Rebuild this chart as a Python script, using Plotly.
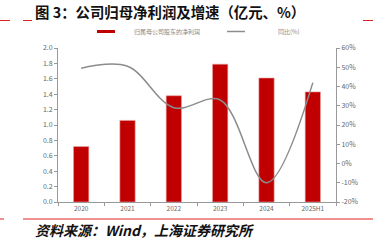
import plotly.graph_objects as go

categories = ["2020", "2021", "2022", "2023", "2024", "2025H1"]
net_profit = [0.72, 1.06, 1.38, 1.79, 1.61, 1.43]
yoy = [49.5, 50.5, 29.0, 33.0, -10.0, 42.0]
left_ticks = [0.0, 0.2, 0.4, 0.6, 0.8, 1.0, 1.2, 1.4, 1.6, 1.8, 2.0]
right_ticks = [-20, -10, 0, 10, 20, 30, 40, 50, 60]
series_names = ["归属母公司股东的净利润", "同比(%)"]

RED = "#C00000"
GREY = "#8C8C8C"
TICKC = "#666666"
FONT = "Noto Sans CJK SC"

fig = go.Figure()
fig.add_trace(go.Bar(x=categories, y=net_profit, name=series_names[0],
                     marker=dict(color=RED, line=dict(width=0.6, color="#E8A0A0")),
                     showlegend=False, yaxis="y"))
fig.add_trace(go.Scatter(x=categories, y=yoy, mode="lines", yaxis="y2", name=series_names[1],
                         line=dict(color=GREY, width=1.5, shape="spline", smoothing=1.0),
                         showlegend=False))

fig.update_layout(
    width=383, height=252,
    margin=dict(l=58, r=47, t=48, b=50),
    paper_bgcolor="white", plot_bgcolor="white",
    font=dict(family=FONT, size=7, color=TICKC),
    bargap=0.67,
    showlegend=False,
    xaxis=dict(type="category", showline=True, linecolor="#999999", linewidth=1,
               ticks="outside", tickson="boundaries", ticklen=3, tickcolor="#999999",
               showgrid=False, tickfont=dict(size=6.5, color=TICKC)),
    yaxis=dict(range=[0, 2.0], tickvals=left_ticks, ticktext=[f"{v:.1f}" for v in left_ticks],
               showline=True, linecolor="#999999", linewidth=1, ticks="outside", ticklen=3,
               tickcolor="#999999", showgrid=False, zeroline=False,
               tickfont=dict(size=7, color=TICKC)),
    yaxis2=dict(range=[-20, 60], tickvals=right_ticks, ticktext=[f"{v}%" for v in right_ticks],
                overlaying="y", side="right", showline=True, linecolor="#999999", linewidth=1,
                ticks="outside", ticklen=3, tickcolor="#999999", showgrid=False, zeroline=False,
                tickfont=dict(size=7, color=TICKC)),
)

def px(x):
    return (x - 58) / 278

def py(y):
    return (202 - y) / 154

fig.add_annotation(text="<b>图 3：公司归母净利润及增速（亿元、%）</b>", xref="paper", yref="paper",
                   x=px(33), y=py(12), xanchor="left", yanchor="middle",
                   showarrow=False, font=dict(family=FONT, size=14.4, color="#111111"))
fig.add_annotation(text="<b><i>资料来源：Wind，上海证券研究所</i></b>", xref="paper", yref="paper",
                   x=px(33), y=py(230), xanchor="left", yanchor="middle",
                   showarrow=False, font=dict(family=FONT, size=14, color="#111111"))

def hline(x0, x1, y, color="#E02020", width=1):
    fig.add_shape(type="line", xref="paper", yref="paper",
                  x0=px(x0), x1=px(x1), y0=py(y), y1=py(y),
                  line=dict(color=color, width=width))

hline(0, 10, 20.5)
hline(23, 32, 20.5)
hline(363, 373, 20.5)
hline(0, 4, 219)
hline(23, 373, 219)

# legend
hline(97, 115, 31.5, color=RED, width=3)
fig.add_annotation(text=series_names[0], xref="paper", yref="paper", x=px(132), y=py(31.5),
                   xanchor="left", yanchor="middle", showarrow=False,
                   font=dict(family=FONT, size=6, color="#888888"))
hline(227, 245, 31.5, color=GREY, width=1.5)
fig.add_annotation(text=series_names[1], xref="paper", yref="paper", x=px(276), y=py(31.5),
                   xanchor="left", yanchor="middle", showarrow=False,
                   font=dict(family=FONT, size=6, color="#888888"))

fig.write_html("out.html")
